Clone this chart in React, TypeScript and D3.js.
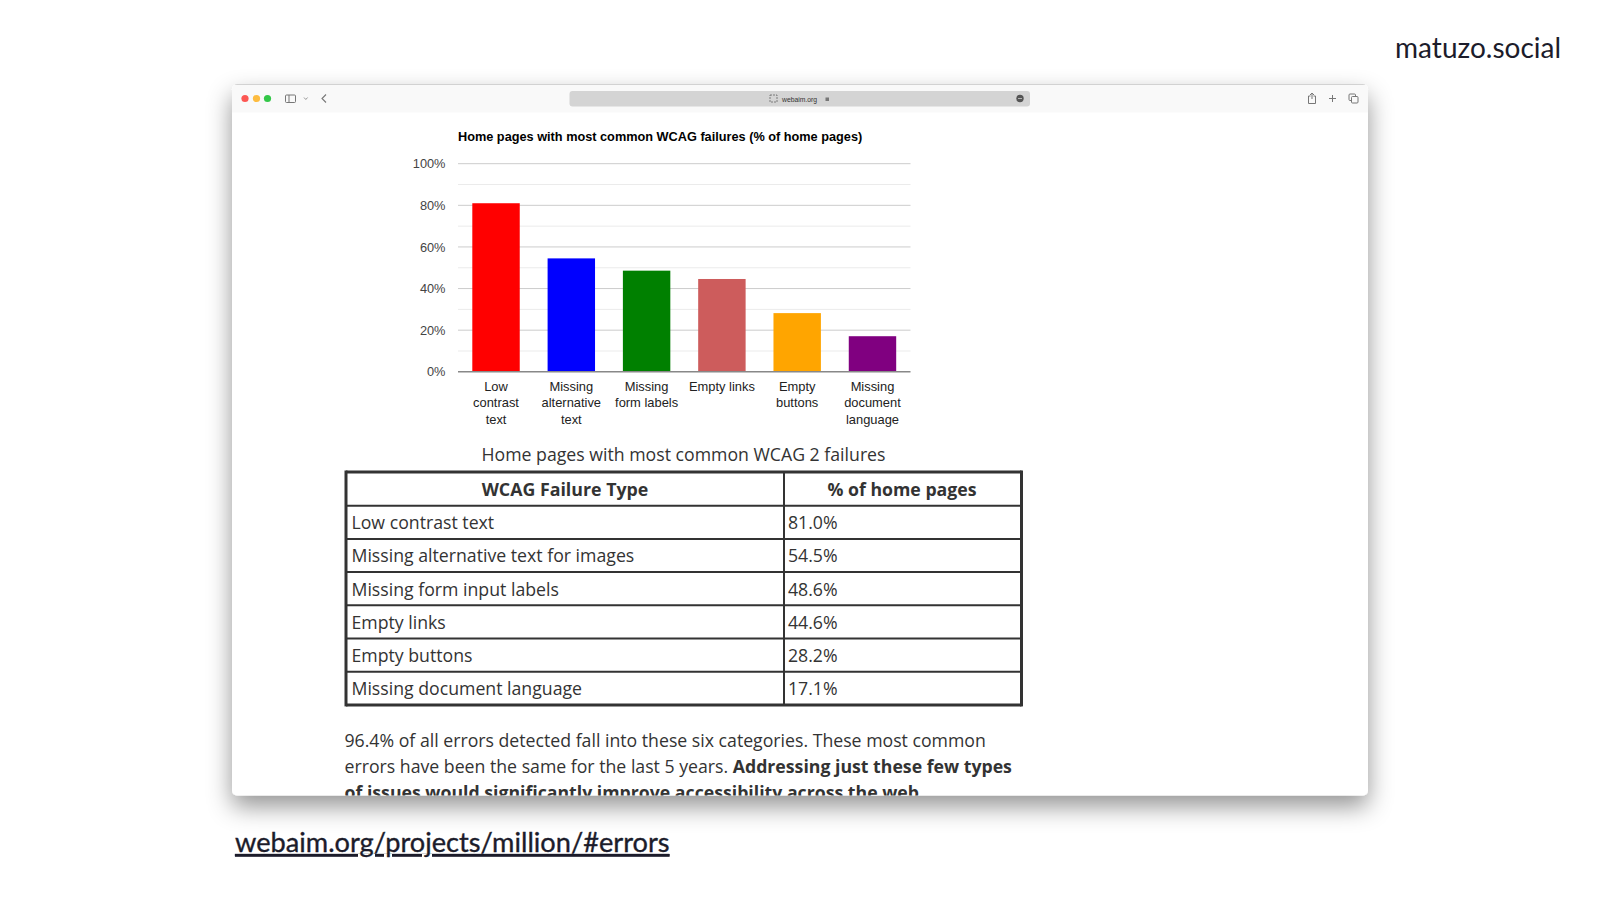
import React, { useEffect, useRef } from 'react';
import * as d3 from 'd3';

const categories = ['Low contrast text', 'Missing alternative text', 'Missing form labels', 'Empty links', 'Empty buttons', 'Missing document language'];
const categoryLines = [['Low', 'contrast', 'text'], ['Missing', 'alternative', 'text'], ['Missing', 'form labels'], ['Empty links'], ['Empty', 'buttons'], ['Missing', 'document', 'language']];
const values = [81.0, 54.5, 48.6, 44.6, 28.2, 17.1];
const barColors = ['#ff0000', '#0000ff', '#008000', '#cd5c5c', '#ffa500', '#800080'];
const majorTicks = [0, 20, 40, 60, 80, 100];
const minorTicks = [10, 30, 50, 70, 90];
const tableHeader = ['WCAG Failure Type', '% of home pages'];
const tableRows = ['Low contrast text', 'Missing alternative text for images', 'Missing form input labels', 'Empty links', 'Empty buttons', 'Missing document language'];
const tablePercents = ['81.0%', '54.5%', '48.6%', '44.6%', '28.2%', '17.1%'];

const chartFont = '"Liberation Sans", Arial, sans-serif';
const pageFont = '"Open Sans", sans-serif';

const App: React.FC = () => {
  const chartRef = useRef<SVGGElement>(null);

  useEffect(() => {
    if (!chartRef.current) return;
    const g = d3.select(chartRef.current);
    g.selectAll('*').remove();

    const x = d3.scaleBand<string>().domain(categories).range([458, 910.5]).paddingInner(0.37).paddingOuter(0.19);
    const y = d3.scaleLinear().domain([0, 100]).range([371.8, 163.7]);

    g.append('g').selectAll('line').data(minorTicks).join('line')
      .attr('x1', 458).attr('x2', 910.5)
      .attr('y1', d => y(d)).attr('y2', d => y(d))
      .attr('stroke', '#ebebeb').attr('stroke-width', 1);

    g.append('g').selectAll('line').data(majorTicks.slice(1)).join('line')
      .attr('x1', 458).attr('x2', 910.5)
      .attr('y1', d => y(d)).attr('y2', d => y(d))
      .attr('stroke', '#cccccc').attr('stroke-width', 1);

    g.append('g').selectAll('rect').data(values).join('rect')
      .attr('x', (_, i) => x(categories[i]) as number)
      .attr('y', d => y(d))
      .attr('width', x.bandwidth())
      .attr('height', d => y(0) - y(d))
      .attr('fill', (_, i) => barColors[i]);

    g.append('line')
      .attr('x1', 458).attr('x2', 910.5)
      .attr('y1', y(0)).attr('y2', y(0))
      .attr('stroke', '#888888').attr('stroke-width', 1.5);

    // y axis labels
    const yAxis = d3.axisLeft(y).tickValues(majorTicks).tickSize(0).tickPadding(12.5).tickFormat(d => `${d}%`);
    const axisG = g.append('g').attr('transform', 'translate(458,0)').call(yAxis);
    axisG.select('.domain').remove();
    axisG.selectAll('text')
      .style('font-family', chartFont)
      .style('font-size', '12.8px')
      .style('fill', '#444444');

    // wrapped category labels
    categoryLines.forEach((lines, i) => {
      const cx = (x(categories[i]) as number) + x.bandwidth() / 2;
      lines.forEach((line, j) => {
        g.append('text')
          .attr('x', cx)
          .attr('y', 391 + j * 16.3)
          .attr('text-anchor', 'middle')
          .style('font-family', chartFont)
          .style('font-size', '12.9px')
          .style('fill', '#222222')
          .text(line);
      });
    });

    g.append('text')
      .attr('x', 458).attr('y', 141)
      .style('font-family', chartFont)
      .style('font-size', '12.72px')
      .style('font-weight', 700)
      .style('fill', '#000000')
      .text('Home pages with most common WCAG failures (% of home pages)');
  }, []);

  const rowH = 33.2;
  const tableTop = 472;
  const textDy = 24;

  return (
    <svg width={1600} height={900} style={{ position: 'absolute', left: 0, top: 0, background: '#ffffff' }}>
      <defs>
        <filter id="winShadow" x="-10%" y="-10%" width="120%" height="125%">
          <feDropShadow dx="0" dy="11" stdDeviation="12" floodColor="#000000" floodOpacity="0.42" />
        </filter>
        <clipPath id="winClip">
          <rect x={232} y={84.5} width={1136} height={711} rx={5} />
        </clipPath>
      </defs>

      <text x={1561} y={58} textAnchor="end" style={{ fontFamily: 'Lato, sans-serif', fontSize: 28, fill: '#1c1c2b' }}>matuzo.social</text>

      {/* browser window */}
      <rect x={232} y={84.5} width={1136} height={711} rx={5} fill="#ffffff" filter="url(#winShadow)" />
      <g clipPath="url(#winClip)">
        <rect x={232} y={84.5} width={1136} height={28} fill="#f9f9f9" />
        <line x1={232} x2={1368} y1={84.5} y2={84.5} stroke="#aaaaaa" strokeWidth={1} />
        <circle cx={245} cy={98.5} r={3.6} fill="#fc5753" />
        <circle cx={256.5} cy={98.5} r={3.6} fill="#fdbc40" />
        <circle cx={267.5} cy={98.5} r={3.6} fill="#33c748" />
        <rect x={285.5} y={95} width={10} height={7.5} rx={1} fill="none" stroke="#777777" />
        <line x1={289} x2={289} y1={95} y2={102.5} stroke="#777777" />
        <path d="M304 97.5 l1.8 2 l1.8 -2" fill="none" stroke="#999999" />
        <path d="M326 94.5 l-4 4 l4 4" fill="none" stroke="#777777" strokeWidth={1.1} />
        <rect x={569.5} y={91} width={460.5} height={15.5} rx={3} fill="#d4d4d4" />
        <rect x={770} y={95} width={7} height={7} fill="none" stroke="#666666" strokeWidth={0.8} strokeDasharray="2 1" />
        <text x={782} y={101.5} style={{ fontFamily: chartFont, fontSize: 6.8, fill: '#333333' }}>webaim.org</text>
        <rect x={825.5} y={97.5} width={3.5} height={3.5} fill="#777777" />
        <circle cx={1020} cy={98.5} r={3.7} fill="#555555" />
        <line x1={1018} x2={1022} y1={98.5} y2={98.5} stroke="#cccccc" strokeWidth={0.8} />
        <path d="M1310.5 96 h-2 v7.5 h7 v-7.5 h-2 M1312 99 v-5.5 M1310 95 l2 -2 l2 2" fill="none" stroke="#777777" />
        <path d="M1332.5 95 v7 M1329 98.5 h7" fill="none" stroke="#777777" />
        <rect x={1349} y={94} width={6.5} height={6.5} rx={1} fill="none" stroke="#777777" />
        <rect x={1351.5} y={96.5} width={6.5} height={6.5} rx={1} fill="#f9f9f9" stroke="#777777" />

        <g ref={chartRef} />

        <text x={683.5} y={461} textAnchor="middle" style={{ fontFamily: pageFont, fontSize: 17.7, fill: '#333333' }}>Home pages with most common WCAG 2 failures</text>

        {/* table */}
        {d3.range(tableRows.length + 2).map(i => (
          <line key={i} x1={346} x2={1021.5} y1={tableTop + i * rowH + (i > 0 ? 0.5 : 0)} y2={tableTop + i * rowH + (i > 0 ? 0.5 : 0)} stroke="#333333" strokeWidth={i === 0 || i === tableRows.length + 1 ? 3 : 2} />
        ))}
        <line x1={346} x2={346} y1={tableTop - 1.5} y2={tableTop + 7 * rowH + 2} stroke="#333333" strokeWidth={3} />
        <line x1={1021.5} x2={1021.5} y1={tableTop - 1.5} y2={tableTop + 7 * rowH + 2} stroke="#333333" strokeWidth={3} />
        <line x1={784} x2={784} y1={tableTop} y2={tableTop + 7 * rowH} stroke="#333333" strokeWidth={2} />
        <text x={565} y={tableTop + textDy - 0.5} textAnchor="middle" style={{ fontFamily: pageFont, fontSize: 17.8, fontWeight: 700, fill: '#333333' }}>{tableHeader[0]}</text>
        <text x={902} y={tableTop + textDy - 0.5} textAnchor="middle" style={{ fontFamily: pageFont, fontSize: 17.7, fontWeight: 700, fill: '#333333' }}>{tableHeader[1]}</text>
        {tableRows.map((label, i) => (
          <g key={label}>
            <text x={351.5} y={tableTop + (i + 1) * rowH + textDy} style={{ fontFamily: pageFont, fontSize: 17.7, fill: '#333333' }}>{label}</text>
            <text x={788} y={tableTop + (i + 1) * rowH + textDy} style={{ fontFamily: pageFont, fontSize: 17.7, fill: '#333333' }}>{tablePercents[i]}</text>
          </g>
        ))}

        <text x={344.5} y={746.5} style={{ fontFamily: pageFont, fontSize: 17.72, fill: '#333333' }}>96.4% of all errors detected fall into these six categories. These most common</text>
        <text x={344.5} y={772.5} style={{ fontFamily: pageFont, fontSize: 17.72, fill: '#333333' }}>
          errors have been the same for the last 5 years. <tspan fontWeight={700}>Addressing just these few types</tspan>
        </text>
        <text x={344.5} y={799} style={{ fontFamily: pageFont, fontSize: 17.72, fontWeight: 700, fill: '#333333' }}>of issues would significantly improve accessibility across the web.</text>
      </g>

      <text x={235} y={852} stroke="#1c1c2b" strokeWidth={0.35} style={{ fontFamily: 'Lato, sans-serif', fontSize: 27.2, fill: '#1c1c2b', textDecoration: 'underline' }}>webaim.org/projects/million/#errors</text>
    </svg>
  );
};

export default App;
